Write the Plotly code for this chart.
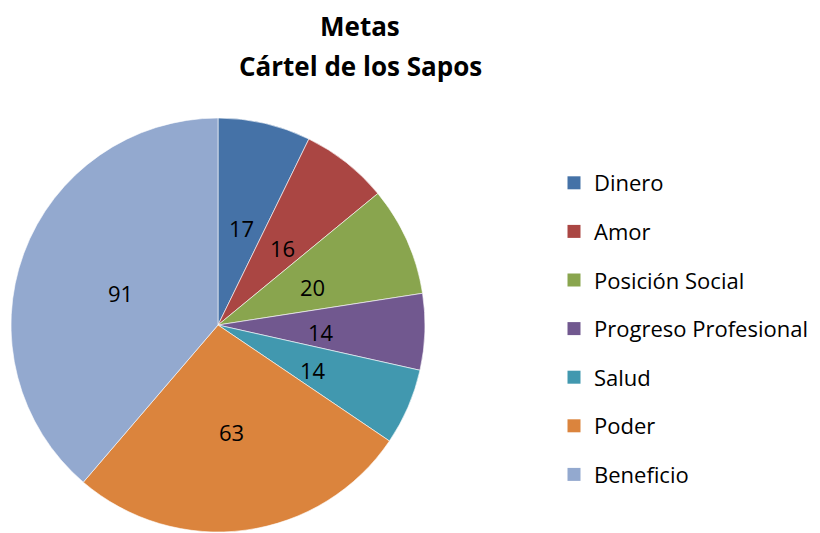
import math
import plotly.graph_objects as go

categories = ["Dinero", "Amor", "Posición Social", "Progreso Profesional", "Salud", "Poder", "Beneficio"]
values = [17, 16, 20, 14, 14, 63, 91]
colors = ["#4572A7", "#AA4643", "#89A54E", "#71588F", "#4198AF", "#DB843D", "#93A9CF"]
title_lines = ["Metas", "Cártel de los Sapos"]

W, H = 820, 533
FONT = "'Open Sans', sans-serif"

# pie placement (figure pixels)
PIE_L, PIE_R, PIE_T, PIE_B = 3, 417, 110, 524
cx, cy = (PIE_L + PIE_R) / 2, (PIE_T + PIE_B) / 2
R = (PIE_R - PIE_L) / 2

fig = go.Figure()
fig.add_trace(go.Pie(
    labels=categories, values=values, sort=False, direction="clockwise", rotation=0,
    marker=dict(colors=colors, line=dict(color="white", width=0.6)),
    textinfo="none", showlegend=False, hoverinfo="label+value",
    domain=dict(x=[PIE_L / W, PIE_R / W], y=[1 - PIE_B / H, 1 - PIE_T / H]),
))

# value labels at half radius along each slice's mid-angle (clockwise from 12 o'clock)
total = sum(values)
cum = 0
for v in values:
    mid = (cum + v / 2) / total * 2 * math.pi
    cum += v
    px = cx + 0.5 * R * math.sin(mid)
    py = cy - 0.5 * R * math.cos(mid)
    fig.add_annotation(text=str(v), x=px / W, y=1 - py / H, xref="paper", yref="paper",
                       xanchor="center", yanchor="middle", showarrow=False, yshift=-4,
                       font=dict(family=FONT, size=22, color="black"))

for i, (c, col) in enumerate(zip(categories, colors)):
    fig.add_trace(go.Scatter(
        x=[None], y=[None], mode="markers", name=c,
        marker=dict(symbol="square", size=13, color=col),
        legendgroup=str(i), showlegend=True,
    ))

for line, ty in zip(title_lines, [18, 58]):
    fig.add_annotation(text="<b>" + line + "</b>", x=352 / W, y=1 - ty / H, xref="paper", yref="paper",
                       xanchor="center", yanchor="middle", showarrow=False,
                       font=dict(family=FONT, size=26, color="black"))

fig.update_layout(
    width=W, height=H, margin=dict(l=0, r=0, t=0, b=0),
    paper_bgcolor="white", plot_bgcolor="white",
    xaxis=dict(visible=False), yaxis=dict(visible=False),
    legend=dict(x=546 / W, y=1 - 154 / H, xanchor="left", yanchor="top",
                font=dict(family=FONT, size=22, color="black"),
                tracegroupgap=17, itemclick=False, itemdoubleclick=False),
    showlegend=True,
)

fig.write_html("out.html")
